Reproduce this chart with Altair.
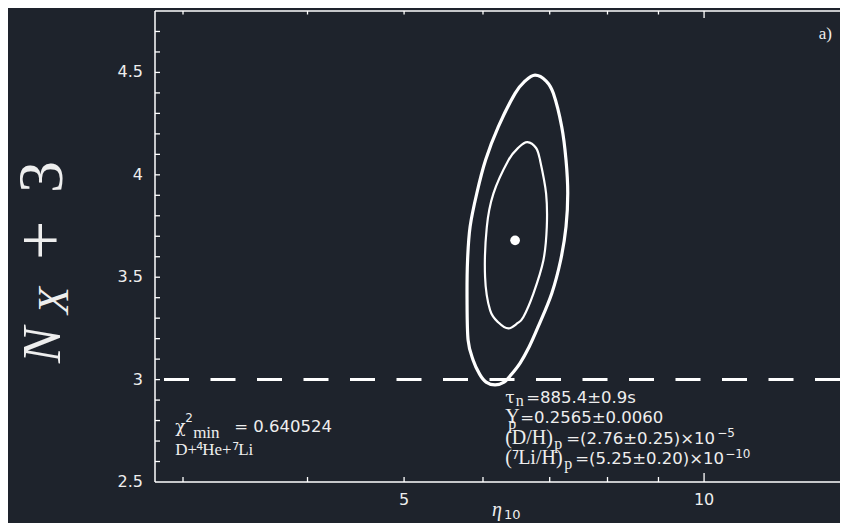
import altair as alt
import pandas as pd

# ---------------- data ----------------
# contours listed clockwise from their right-most point (closed curves)
outer_eta = [7.298, 7.269, 7.180, 7.033, 6.814, 6.674, 6.537, 6.388, 6.300, 6.170,
             6.043, 5.953, 5.864, 5.797, 5.783, 5.790, 5.824, 5.915, 6.036, 6.217,
             6.462, 6.613, 6.767, 6.943, 7.059, 7.197, 7.269]
outer_nx = [3.910, 3.747, 3.584, 3.421, 3.257, 3.159, 3.081, 3.018, 2.988, 2.974,
            2.988, 3.027, 3.096, 3.193, 3.389, 3.584, 3.747, 3.910, 4.072, 4.235,
            4.398, 4.458, 4.487, 4.458, 4.398, 4.235, 4.072]
inner_eta = [6.953, 6.899, 6.741, 6.587, 6.492, 6.363, 6.227, 6.099, 6.029, 6.053,
             6.146, 6.363, 6.522, 6.648, 6.783, 6.846, 6.942]
inner_nx = [3.745, 3.583, 3.420, 3.306, 3.274, 3.250, 3.276, 3.339, 3.501, 3.745,
            3.908, 4.071, 4.136, 4.160, 4.131, 4.071, 3.908]
best_eta = [6.462]
best_nx = [3.68]
std_nx = [3.0]

x_labels = [5, 10]
x_minor = [3, 4, 5, 6, 7, 8, 9]
x_decade = [10]
y_labels = [2.5, 3, 3.5, 4, 4.5]
y_label_text = ["2.5", "3", "3.5", "4", "4.5"]
y_minor = [2.6, 2.7, 2.8, 2.9, 3.0, 3.1, 3.2, 3.3, 3.4, 3.5, 3.6, 3.7, 3.8,
           3.9, 4.0, 4.1, 4.2, 4.3, 4.4, 4.5, 4.6, 4.7]

panel_label = "a)"
chi_texts = ["χ", "2", "min", "= 0.640524", "D+", "4", "He+", "7", "Li"]
input_texts = ["τ", "n", "=885.4±0.9s",
               "Y", "p", "=0.2565±0.0060",
               "(D/H)", "p", "=(2.76±0.25)×10", "−5",
               "(", "7", "Li/H)", "p", "=(5.25±0.20)×10", "−10"]
ytitle_texts = ["N", "X", "+", "3"]
xtitle_texts = ["η", "10"]

# ---------------- layout / style ----------------
W, H = 685, 471
PADL, PADT, PADB = 147, 3, 41
WHITE = "#ffffff"
TXT = "#eeeeee"
SER = "Liberation Serif"
GRK = "DejaVu Serif"
SAN = "DejaVu Sans"
X0, X1 = 2.812, 13.69
Y0, Y1 = 2.5, 4.8

xs = alt.Scale(type="log", domain=[X0, X1], nice=False)
ys = alt.Scale(domain=[Y0, Y1], nice=False, zero=False)

# ---------------- data marks ----------------
outer_df = pd.DataFrame({"eta": outer_eta, "nx": outer_nx, "i": range(len(outer_eta))})
inner_df = pd.DataFrame({"eta": inner_eta, "nx": inner_nx, "i": range(len(inner_eta))})
best_df = pd.DataFrame({"eta": best_eta, "nx": best_nx})
std_df = pd.DataFrame({"nx": std_nx})

outer = alt.Chart(outer_df).mark_line(color=WHITE, strokeWidth=3.2, interpolate="cardinal-closed").encode(
    x=alt.X("eta:Q", scale=xs, axis=None),
    y=alt.Y("nx:Q", scale=ys, axis=None),
    order=alt.Order("i:Q"),
)
inner = alt.Chart(inner_df).mark_line(color=WHITE, strokeWidth=2.2, interpolate="cardinal-closed").encode(
    x=alt.X("eta:Q", scale=xs, axis=None),
    y=alt.Y("nx:Q", scale=ys, axis=None),
    order=alt.Order("i:Q"),
)
dot = alt.Chart(best_df).mark_circle(color=WHITE, size=95, opacity=1).encode(
    x=alt.X("eta:Q", scale=xs, axis=None),
    y=alt.Y("nx:Q", scale=ys, axis=None),
)
rule = alt.Chart(std_df).mark_rule(color=WHITE, strokeWidth=3, strokeDash=[25, 21.5]).encode(
    y=alt.Y("nx:Q", scale=ys, axis=None),
)

# ---------------- inward ticks as short line segments through the scales ----------------
PXY = (Y1 - Y0) / H            # nx units per pixel
PXX = 10 ** (1 / 996.6)        # log-x factor per pixel

tick_rows = []
for v in x_minor:
    tick_rows += [(v, Y0, f"b{v}"), (v, Y0 + 5 * PXY, f"b{v}"),
                  (v, Y1, f"t{v}"), (v, Y1 - 3.5 * PXY, f"t{v}")]
for v in x_decade:
    tick_rows += [(v, Y0, f"b{v}"), (v, Y0 + 9 * PXY, f"b{v}"),
                  (v, Y1, f"t{v}"), (v, Y1 - 7 * PXY, f"t{v}")]
for v in y_minor:
    tick_rows += [(X0, v, f"y{v}"), (X0 * PXX ** 5, v, f"y{v}")]
tick_df = pd.DataFrame(tick_rows, columns=["eta", "nx", "k"])

ticks = alt.Chart(tick_df).mark_line(color=WHITE, strokeWidth=1.3).encode(
    x=alt.X("eta:Q", scale=xs, axis=None),
    y=alt.Y("nx:Q", scale=ys, axis=None),
    detail="k:N",
)

one = pd.DataFrame({"a": [0]})
frame = [
    alt.Chart(one).mark_rule(color=WHITE, strokeWidth=1.5).encode(
        x=alt.value(0), x2=alt.value(W), y=alt.value(0)),
    alt.Chart(one).mark_rule(color=WHITE, strokeWidth=1.5).encode(
        x=alt.value(0), x2=alt.value(W), y=alt.value(H)),
    alt.Chart(one).mark_rule(color=WHITE, strokeWidth=1.5).encode(
        x=alt.value(0), y=alt.value(0), y2=alt.value(H)),
    ticks,
    alt.Chart(pd.DataFrame({"v": x_labels, "t": [str(v) for v in x_labels]})).mark_text(
        font=SAN, fontSize=16, color=TXT, align="center", baseline="top"
    ).encode(x=alt.X("v:Q", scale=xs, axis=None), y=alt.value(H + 10), text="t:N"),
    alt.Chart(pd.DataFrame({"v": y_labels, "t": y_label_text})).mark_text(
        font=SAN, fontSize=16, color=TXT, align="right", baseline="middle"
    ).encode(y=alt.Y("v:Q", scale=ys, axis=None), x=alt.value(-12), text="t:N"),
]

layers = [outer, inner, dot, rule] + frame


def seg(x, y, txt, font, size, dx, dy, style="normal", align="left"):
    df = pd.DataFrame({"eta": [x], "nx": [y], "t": [txt]})
    return alt.Chart(df).mark_text(font=font, fontSize=size, dx=dx, dy=dy, align=align,
                                   baseline="alphabetic", color=TXT, fontStyle=style).encode(
        x=alt.X("eta:Q", scale=xs, axis=None),
        y=alt.Y("nx:Q", scale=ys, axis=None),
        text="t:N",
    )


# panel label
layers.append(seg(13.44, 4.663, panel_label, SER, 17, 0, 0, align="right"))

# chi^2 block: anchor (eta, nx) at start of first baseline
chi_style = [(GRK, 17, 0, 0), (SAN, 12, 10, -10), (SER, 17, 18, 6), (SAN, 16.5, 59, 0),
             (SER, 17, 0, 23), (SAN, 11, 21, 18), (SER, 17, 27, 23), (SAN, 11, 57, 18),
             (SER, 17, 63, 23)]
for t, (f, s, dx, dy) in zip(chi_texts, chi_style):
    layers.append(seg(2.946, 2.744, t, f, s, dx, dy))

# input-value block
L = 20.3
inp_style = [(GRK, 17, 0, 0), (SER, 16, 10.5, 3), (SAN, 16.5, 21, 0),
             (SER, 20, 0, L), (SER, 16, 3, L + 6), (SAN, 16.5, 15, L),
             (SER, 20, 0, 2 * L), (SER, 16, 49, 2 * L + 5), (SAN, 16.5, 61, 2 * L), (SAN, 12, 212, 2 * L - 7),
             (SER, 20, 0, 3 * L), (SAN, 12, 6.5, 3 * L - 5), (SER, 20, 13, 3 * L), (SER, 16, 59, 3 * L + 5),
             (SAN, 16.5, 70, 3 * L), (SAN, 12, 220, 3 * L - 6)]
for t, (f, s, dx, dy) in zip(input_texts, inp_style):
    layers.append(seg(6.315, 2.886, t, f, s, dx, dy))

# y-axis title (rotated pieces)
yt_style = [(-95, 352, 54, "italic"), (-87, 303, 44, "italic"), (-91, 249, 70, "normal"), (-93, 182, 64, "normal")]
for t, (px, py, s, st) in zip(ytitle_texts, yt_style):
    layers.append(alt.Chart(pd.DataFrame({"t": [t]})).mark_text(
        font=SER, fontSize=s, fontStyle=st, angle=270, align="left", baseline="alphabetic", color=TXT
    ).encode(x=alt.value(px), y=alt.value(py), text="t:N"))

# x-axis title
xt_style = [(337, 505, 20, "italic", SER), (349, 508, 13, "normal", SAN)]
for t, (px, py, s, st, f) in zip(xtitle_texts, xt_style):
    layers.append(alt.Chart(pd.DataFrame({"t": [t]})).mark_text(
        font=f, fontSize=s, fontStyle=st, align="left", baseline="alphabetic", color=TXT
    ).encode(x=alt.value(px), y=alt.value(py), text="t:N"))

chart = alt.layer(*layers).properties(
    width=W, height=H,
    autosize=alt.AutoSizeParams(type="none"),
    padding={"left": PADL, "top": PADT, "right": 0, "bottom": PADB},
).configure(background="#1e232c").configure_view(stroke=None)

chart.save("out.html", embed_options={"renderer": "svg", "actions": False})
